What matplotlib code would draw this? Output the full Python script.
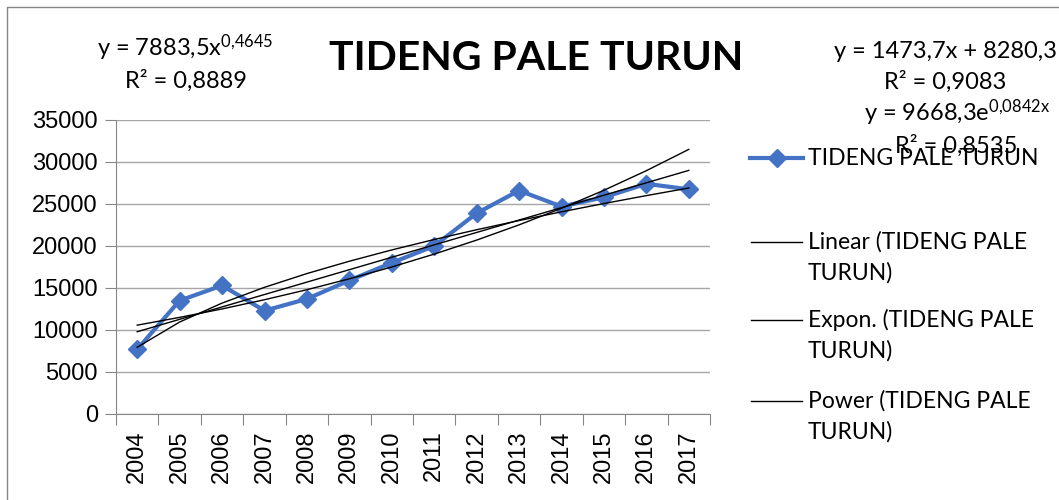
import matplotlib
matplotlib.use("Agg")
import matplotlib.pyplot as plt
import numpy as np
from matplotlib.lines import Line2D

plt.rcParams['mathtext.fontset'] = 'custom'
plt.rcParams['mathtext.rm'] = 'Lato'
plt.rcParams['mathtext.it'] = 'Lato'

years = ['2004', '2005', '2006', '2007', '2008', '2009', '2010',
         '2011', '2012', '2013', '2014', '2015', '2016', '2017']
values = [7700, 13500, 15300, 12300, 13700, 15900, 18000,
          20000, 23900, 26600, 24700, 25800, 27400, 26750]
series_name = 'TIDENG PALE TURUN'
eq_power = ['y = 7883,5x$^{0{,}4645}$', 'R² = 0,8889']
eq_linear = ['y = 1473,7x + 8280,3', 'R² = 0,9083']
eq_expon = ['y = 9668,3e$^{0{,}0842x}$', 'R² = 0,8535']

W, H = 1059, 500
fig = plt.figure(figsize=(W / 100, H / 100), dpi=100)


def fx(px):
    return px / W


def fy(py):
    return 1 - py / H


ax = fig.add_axes([fx(116), fy(414), fx(710) - fx(116), fy(120) - fy(414)])

x = np.arange(1, len(years) + 1)
y = np.array(values, dtype=float)

# trendlines like excel: linear, exponential, power
a, b = np.polyfit(x, y, 1)
ke, le = np.polyfit(x, np.log(y), 1)
kp, lp = np.polyfit(np.log(x), np.log(y), 1)
ax.plot(x, a * x + b, color='black', lw=1, zorder=3)
ax.plot(x, np.exp(le) * np.exp(ke * x), color='black', lw=1, zorder=3)
ax.plot(x, np.exp(lp) * x ** kp, color='black', lw=1, zorder=3)

ax.plot(x, y, color='#4472C4', lw=3, marker='D', markersize=9, zorder=2)

ax.set_xlim(0.5, len(years) + 0.5)
ax.set_ylim(0, 35000)
ax.set_yticks(np.arange(0, 35001, 5000))
ax.set_xticks(np.arange(0.5, len(years) + 1, 1))
ax.set_xticklabels([])
ax.set_xticks(x, minor=True)
ax.set_xticklabels(years, minor=True, rotation=90, fontsize=17,
                   family='Liberation Sans')
ax.tick_params(axis='x', which='minor', length=0, pad=12)
ax.tick_params(axis='x', which='major', length=8, color='#868686')
ax.tick_params(axis='y', length=8, color='#868686', labelsize=17, pad=5)
for lab in ax.get_yticklabels():
    lab.set_family('Liberation Sans')
ax.grid(axis='y', color='#A6A6A6', lw=1)
ax.set_axisbelow(True)
for s in ['top', 'right']:
    ax.spines[s].set_visible(False)
for s in ['left', 'bottom']:
    ax.spines[s].set_color('#868686')

fig.text(fx(536), fy(58), series_name, ha='center', va='center',
         fontsize=29.5, fontweight='bold', family='Lato')

tf = dict(ha='center', va='center', fontsize=17, family='Lato')
fig.text(fx(185), fy(48), eq_power[0], **tf)
fig.text(fx(186), fy(81), eq_power[1], **tf)
fig.text(fx(945), fy(52), eq_linear[0], **tf)
fig.text(fx(945), fy(82), eq_linear[1], **tf)
fig.text(fx(957), fy(113), eq_expon[0], **tf)
fig.text(fx(956), fy(146), eq_expon[1], **tf)

# legend
lf = dict(ha='left', va='center', fontsize=16.5, family='Lato')
fig.add_artist(Line2D([fx(750), fx(803)], [fy(158), fy(158)], color='#4472C4',
                      lw=3, transform=fig.transFigure))
fig.add_artist(Line2D([fx(777)], [fy(158)], color='#4472C4', marker='D',
                      markersize=9, transform=fig.transFigure))
fig.text(fx(808), fy(158), series_name, **lf)
for yy, lab in [(242, 'Linear'), (320, 'Expon.'), (401, 'Power')]:
    fig.add_artist(Line2D([fx(751), fx(802)], [fy(yy), fy(yy)], color='black',
                          lw=1, transform=fig.transFigure))
    fig.text(fx(808), fy(yy), lab + ' (TIDENG PALE', **lf)
    fig.text(fx(808), fy(yy + 31), 'TURUN)', **lf)

# chart border (only top and left visible)
fig.add_artist(Line2D([fx(7), fx(7), fx(W + 5)], [fy(H + 5), fy(7), fy(7)],
                      color='#868686', lw=1, transform=fig.transFigure))

fig.savefig('out.png', dpi=100)
